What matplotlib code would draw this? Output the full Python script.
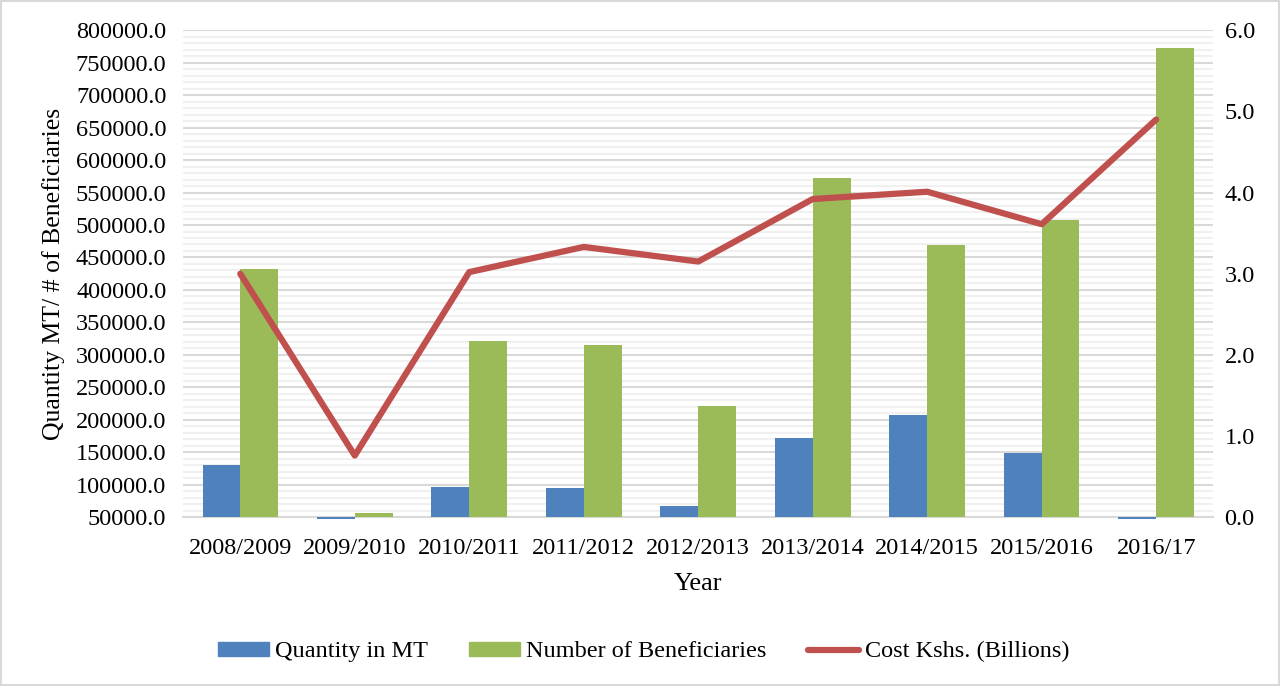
import matplotlib.pyplot as plt
import numpy as np
from matplotlib.lines import Line2D
from matplotlib.patches import Patch

plt.rcParams['font.family'] = ['Liberation Serif', 'DejaVu Serif']

years = ["2008/2009", "2009/2010", "2010/2011", "2011/2012", "2012/2013",
         "2013/2014", "2014/2015", "2015/2016", "2016/17"]
quantity_mt = [130000, 47500, 96000, 95000, 67000, 172000, 207000, 148500, 47500]
beneficiaries = [433000, 56000, 321000, 315000, 221000, 573000, 469000, 507000, 772000]
cost_billions = [3.0, 0.76, 3.02, 3.33, 3.15, 3.92, 4.01, 3.61, 4.90]

blue = '#4F81BD'
green = '#9BBB59'
red = '#C0504D'
base = 50000

fig = plt.figure(figsize=(12.8, 6.86), dpi=100)
ax = fig.add_axes([0.143, 0.246, 0.805, 0.710])
ax2 = ax.twinx()

x = np.arange(len(years))
w = 0.33
q = np.array(quantity_mt)
b = np.array(beneficiaries)
ax.bar(x - w / 2, q - base, w, bottom=base, color=blue, clip_on=False, zorder=3)
ax.bar(x + w / 2, b - base, w, bottom=base, color=green, clip_on=False, zorder=3)

ax.set_xlim(-0.5, len(years) - 0.5)
ax.set_ylim(50000, 800000)
ax.set_yticks(np.arange(50000, 800001, 50000))
ax.set_yticklabels([f"{v:.1f}" for v in np.arange(50000, 800001, 50000)])
ax.set_yticks(np.arange(50000, 800001, 10000), minor=True)
ax.grid(axis='y', which='major', color='#d9d9d9', linewidth=1.5, zorder=0)
ax.grid(axis='y', which='minor', color='#f0f0f0', linewidth=1.5, zorder=0)
ax.set_axisbelow(True)
ax.set_xticks(x)
ax.set_xticklabels(years)
ax.tick_params(axis='both', which='both', length=0, labelsize=17.5)
ax.tick_params(axis='y', pad=12)
ax.tick_params(axis='x', pad=15)
for s in ['top', 'left', 'right']:
    ax.spines[s].set_visible(False)
ax.spines['bottom'].set_color('#d9d9d9')
ax.spines['bottom'].set_linewidth(1.5)
ax.set_ylabel("Quantity MT/ # of Beneficiaries", fontsize=18.5, labelpad=8)
ax.set_xlabel("Year", fontsize=19, labelpad=10)

ax2.plot(x, cost_billions, color=red, linewidth=4.5, solid_capstyle='round', zorder=4)
ax2.set_ylim(0, 6)
ax2.set_yticks(np.arange(0, 6.01, 1.0))
ax2.set_yticklabels([f"{v:.1f}" for v in np.arange(0, 6.01, 1.0)])
ax2.tick_params(axis='y', length=0, labelsize=17.5, pad=8)
for s in ['top', 'left', 'right', 'bottom']:
    ax2.spines[s].set_visible(False)

handles = [Patch(color=blue, label="Quantity in MT"),
           Patch(color=green, label="Number of Beneficiaries"),
           Line2D([0], [0], color=red, linewidth=4.5, solid_capstyle='round',
                  label="Cost Kshs. (Billions)")]
fig.legend(handles=handles, loc='center', bbox_to_anchor=(0.503, 0.05), ncol=3,
           frameon=False, fontsize=17.5, handlelength=2.1, handleheight=0.5,
           columnspacing=1.7, handletextpad=0.25)

fig.patches.append(plt.Rectangle((0.001, 0.001), 0.998, 0.998, transform=fig.transFigure,
                                 fill=False, edgecolor='#d9d9d9', linewidth=1.5))

fig.savefig("out.png", dpi=100)
